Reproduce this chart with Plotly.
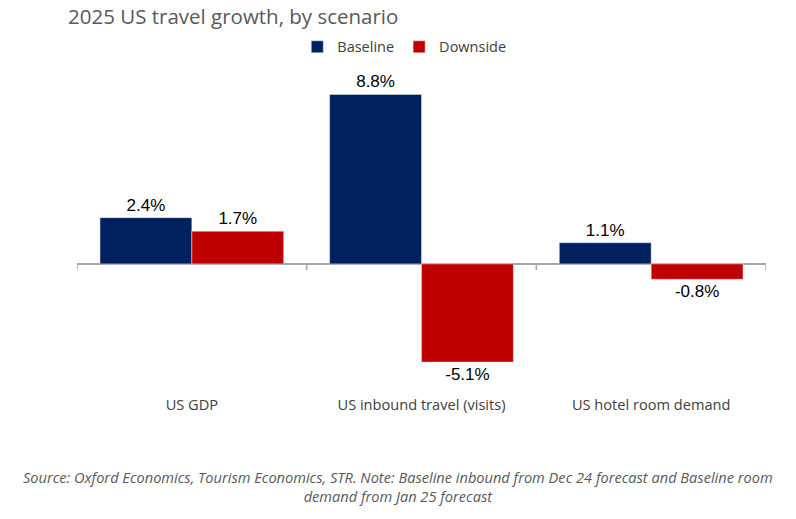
import plotly.graph_objects as go

# Chart data
categories = ["US GDP", "US inbound travel (visits)", "US hotel room demand"]
baseline = [2.4, 8.8, 1.1]
downside = [1.7, -5.1, -0.8]

NAVY = "#002060"
RED = "#C00000"
GREY_TEXT = "#404040"
AXIS_GREY = "#A6A6A6"

label_font = dict(family="Liberation Sans, Arial", size=17, color="black")

fig = go.Figure()
fig.add_trace(go.Bar(
    name="Baseline", x=categories, y=baseline, marker_color=NAVY,
    texttemplate="%{y:.1f}%", textposition="outside", cliponaxis=False,
    textfont=label_font,
))
fig.add_trace(go.Bar(
    name="Downside", x=categories, y=downside, marker_color=RED,
    texttemplate="%{y:.1f}%", textposition="outside", cliponaxis=False,
    textfont=label_font,
))

# small tick marks at category boundaries on the zero line
for i in range(len(categories) + 1):
    fig.add_shape(type="line", xref="x", yref="y",
                  x0=i - 0.5, x1=i - 0.5, y0=0, y1=-0.32,
                  line=dict(color=AXIS_GREY, width=1.5))

fig.add_annotation(
    text="Source: Oxford Economics, Tourism Economics, STR. Note: Baseline inbound from Dec 24 forecast and Baseline room<br>demand from Jan 25 forecast",
    xref="paper", yref="paper", x=0.466, y=-0.305, xanchor="center", yanchor="middle",
    showarrow=False, align="center",
    font=dict(family="Open Sans", size=14.6, color="#595959", style="italic"),
)

fig.update_layout(
    width=796, height=519,
    margin=dict(l=77, r=30, t=79, b=128),
    paper_bgcolor="white", plot_bgcolor="white",
    barmode="group", bargap=0.2, bargroupgap=0,
    title=dict(text="2025 US travel growth, by scenario", x=68 / 796, xanchor="left",
               xref="container", yref="container", y=1 - 17 / 519, yanchor="middle",
               font=dict(family="Open Sans", size=20.5, color="#595959")),
    legend=dict(orientation="h", x=0.475, xanchor="center", y=1.103, yanchor="middle",
                font=dict(family="Open Sans", size=14.5, color=GREY_TEXT),
                itemwidth=30, traceorder="normal"),
    font=dict(family="Open Sans", color=GREY_TEXT),
    xaxis=dict(showline=False, ticks="", showgrid=False, ticklabelstandoff=3,
               tickfont=dict(family="Open Sans", size=14.6, color=GREY_TEXT),
               range=[-0.5, 2.5]),
    yaxis=dict(range=[-6.6, 9.6], showticklabels=False, showgrid=False,
               zeroline=True, zerolinecolor=AXIS_GREY, zerolinewidth=1.5),
)

fig.write_html("out.html", config={"displayModeBar": False},
               post_script="document.body.style.margin='0';")
